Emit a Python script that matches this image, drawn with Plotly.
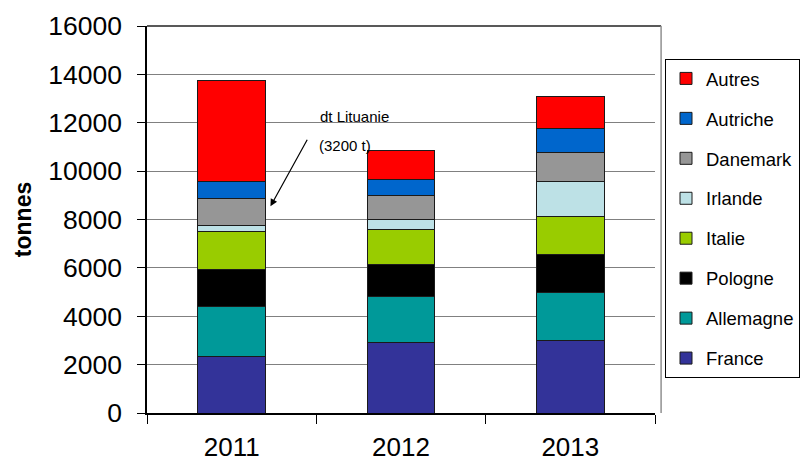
import plotly.graph_objects as go

years = ["2011", "2012", "2013"]
series_names = ["France", "Allemagne", "Pologne", "Italie", "Irlande", "Danemark", "Autriche", "Autres"]
france = [2350, 2920, 3010]
allemagne = [2040, 1890, 1960]
pologne = [1550, 1350, 1590]
italie = [1570, 1440, 1560]
irlande = [260, 410, 1450]
danemark = [1080, 1000, 1220]
autriche = [720, 660, 980]
autres = [4170, 1190, 1330]
colors = ["#333399", "#009999", "#000000", "#99CC00", "#BDE1E6", "#969696", "#0066CC", "#FF0000"]
y_ticks = [0, 2000, 4000, 6000, 8000, 10000, 12000, 14000, 16000]

values = [france, allemagne, pologne, italie, irlande, danemark, autriche, autres]
FONT = "Liberation Sans, Arial, sans-serif"

fig = go.Figure()
n = len(series_names)
for i, (name, vals, col) in enumerate(zip(series_names, values, colors)):
    fig.add_trace(go.Bar(
        x=years, y=vals, name=name, legendgroup=name, legendrank=100 * (n - i),
        marker=dict(color=col, line=dict(color="#1a1a1a", width=1)),
        width=0.4,
    ))

fig.update_layout(
    barmode="stack",
    width=801, height=462,
    margin=dict(l=139, r=154, t=18, b=57, autoexpand=False),
    plot_bgcolor="white", paper_bgcolor="white",
    font=dict(family=FONT, color="black"),
    showlegend=True,
    legend=dict(
        x=1.0197, y=0.915, xanchor="left", yanchor="top",
        traceorder="grouped", tracegroupgap=12.9,
        font=dict(size=18.5, family=FONT, color="black"),
        bordercolor="black", borderwidth=1, bgcolor="white",
        itemwidth=30,
    ),
    xaxis=dict(
        type="category", showgrid=False, automargin=False,
        showline=True, linecolor="black", linewidth=1.5,
        mirror=False,
        ticks="outside", tickson="boundaries", ticklen=9, tickcolor="black",
        tickfont=dict(size=26, family=FONT, color="black"),
        ticklabelstandoff=10,
        range=[-0.5, 2.5],
    ),
    yaxis=dict(
        range=[0, 16000], tickvals=y_ticks, tickformat="d", automargin=False,
        showgrid=True, gridcolor="#808080", gridwidth=1,
        showline=True, linecolor="black", linewidth=1.5,
        ticks="outside", ticklen=8, tickcolor="black",
        tickfont=dict(size=26.5, family=FONT, color="black"),
        ticklabelstandoff=10,
        zeroline=False,
        title=dict(text="<b>tonnes</b>", font=dict(size=23, family=FONT, color="black"), standoff=10),
    ),
)

# plot-area border: top dark, right gray
fig.add_shape(type="line", xref="paper", yref="paper", x0=0, x1=1.012, y0=1, y1=1,
              line=dict(color="#222222", width=1.5))
fig.add_shape(type="line", xref="paper", yref="paper", x0=1.012, x1=1.012, y0=0, y1=1,
              line=dict(color="#909090", width=1.5))

fig.add_annotation(text="dt Lituanie", x=0.408, y=0.767, xref="x domain", yref="y domain",
                   xanchor="center", yanchor="middle",
                   showarrow=False, font=dict(size=15, family=FONT, color="black"))
fig.add_annotation(text="(3200 t)", x=0.390, y=0.692, xref="x domain", yref="y domain",
                   xanchor="center", yanchor="middle",
                   showarrow=False, font=dict(size=15, family=FONT, color="black"))
fig.add_annotation(x=0.243, y=0.534, ax=0.317, ay=0.710, xref="x domain", yref="y domain",
                   axref="x domain", ayref="y domain", text="", showarrow=True,
                   arrowhead=2, arrowsize=1.2, arrowwidth=1.2, arrowcolor="black")

fig.write_html("out.html")
